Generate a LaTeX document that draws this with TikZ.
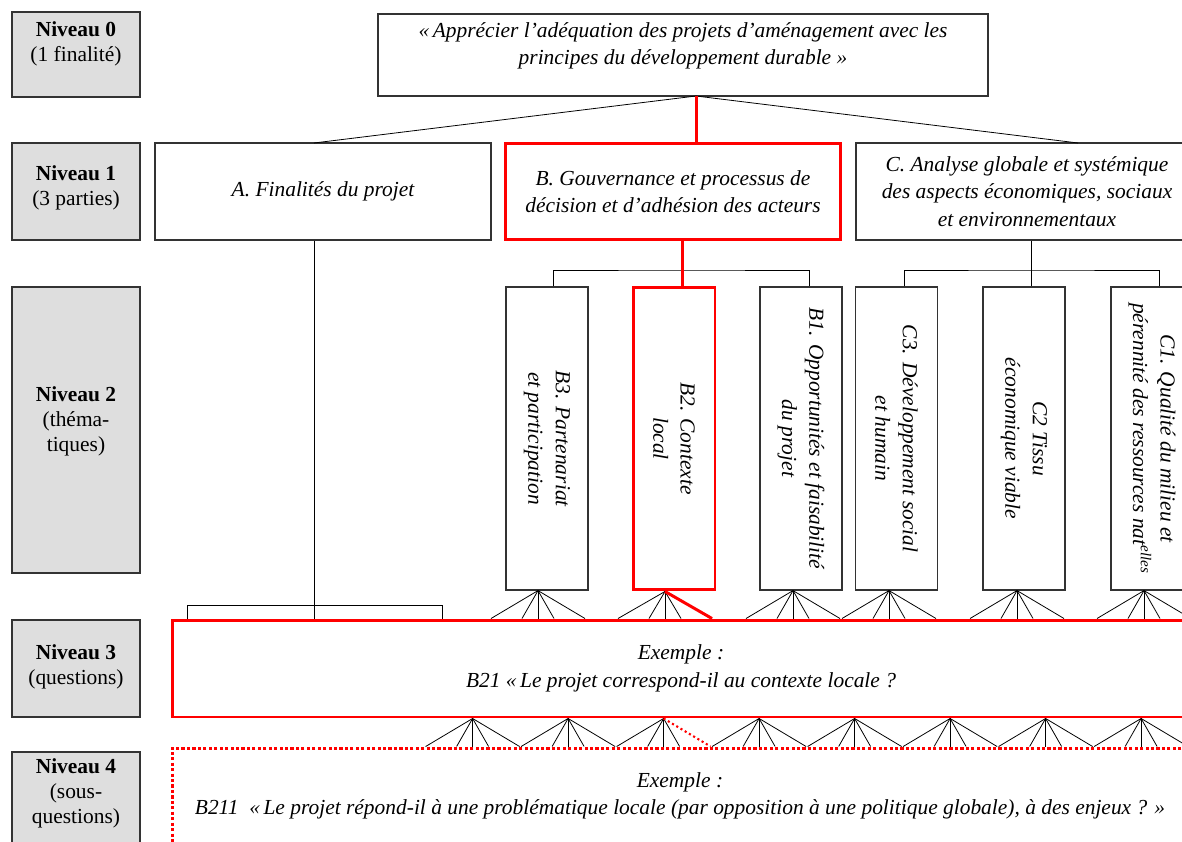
\documentclass[tikz,border=0pt]{standalone}
\usepackage{fontspec}
\setmainfont{Liberation Serif}
\usetikzlibrary{positioning, calc}

\begin{document}
\begin{tikzpicture}[x=0.02cm, y=-0.02cm, font=\fontsize{12.2}{15.6}\selectfont, align=center,
  niveau/.style={draw=black!80, fill=black!13, line width=0.7pt, minimum width=2.56cm},
  etiquette/.style={font=\fontsize{12.2}{14.2}\selectfont},
  boite/.style={draw=black!80, line width=0.7pt, inner sep=0pt, font=\fontsize{12.2}{15.6}\selectfont\itshape},
  theme/.style={boite, rotate=-90, minimum width=6.06cm, minimum height=1.64cm},
  rouge/.style={draw=red, line width=1.7pt},
  pointille/.style={draw=red, line width=1.7pt, dash pattern=on 1.8pt off 1.3pt},
  lien/.style={line width=0.45pt}]
  \useasboundingbox (0,0) rectangle (1182,841);
  \clip (0,0) rectangle (1182,841);

  % Levels (grey boxes on the left)
  \node[niveau, minimum height=1.70cm] (n0) at (76,54.5) {};
  \node[niveau, minimum height=1.94cm] (n1) at (76,191.5) {};
  \node[niveau, minimum height=5.72cm] (n2) at (76,430) {};
  \node[niveau, minimum height=1.94cm] (n3) at (76,668.5) {};
  \node[niveau, minimum height=2.16cm] (n4) at (76,806) {};
  \node[etiquette] (l0) at (76,44) {\textbf{Niveau 0}\\(1 finalité)};
  \node[etiquette] (l1) at (76,188) {\textbf{Niveau 1}\\(3 parties)};
  \node[etiquette] (l2) at (76,421) {\textbf{Niveau 2}\\(théma-\\tiques)};
  \node[etiquette] (l3) at (76,667) {\textbf{Niveau 3}\\(questions)};
  \node[etiquette] (l4) at (76,793) {\textbf{Niveau 4}\\(sous-\\questions)};

  % Level 0
  \node[boite, minimum width=12.2cm, minimum height=1.64cm] (fin) at (683,55) {};
  \node[font=\fontsize{12.2}{15.6}\selectfont\itshape] (tfin) at (683,46)
    {«\,Apprécier l’adéquation des projets d’aménagement avec les\\principes du développement durable »};

  % Level 1
  \node[boite, minimum width=6.72cm, minimum height=1.94cm] (pa) at (323,191.5) {A. Finalités du projet};
  \node[boite, rouge, minimum width=6.72cm, minimum height=1.94cm] (pb) at (673,191.5)
    {B. Gouvernance et processus de\\décision et d’adhésion des acteurs};
  \node[boite, minimum width=6.84cm, minimum height=1.94cm] (pc) at (1027,191.5)
    {C. Analyse globale et systémique\\des aspects économiques, sociaux\\et environnementaux};

  % Level 2
  \node[theme] (b3) at (547,438.5) {B3. Partenariat\\et participation};
  \node[theme, rouge] (b2) at (674,438.5) {B2. Contexte\\local};
  \node[theme] (b1) at (801,438.5) {B1. Opportunités et faisabilité\\du projet};
  \node[theme] (c3) at (896.5,438.5) {C3. Développement social\\et humain};
  \node[theme] (c2) at (1024,438.5) {C2 Tissu\\économique viable};
  \node[theme] (c1) at (1152,438.5) {C1. Qualité du milieu et\\pérennité des ressources nat\textsuperscript{elles}};

  % Level 3 and 4
  \node[boite, rouge, minimum width=20.36cm, minimum height=1.94cm] (q3) at (681,668.5)
    {Exemple :\\B21 «\,Le projet correspond-il au contexte locale ?};
  \node[boite, pointille, minimum width=20.36cm, minimum height=2.24cm] (q4) at (681,804) {};
  \node[font=\fontsize{12.2}{15.6}\selectfont\itshape] (tq4) at (680,796)
    {Exemple :\\B211~~«\,Le projet répond-il à une problématique locale (par opposition à une politique globale), à des enjeux ? »};

  % Level 0 -> 1
  \coordinate (j0) at (696,96);
  \coordinate (ja) at (314,143);
  \coordinate (jb) at (696,143);
  \coordinate (jc) at (1078,143);
  \draw[lien] (j0) -- (ja);
  \draw[lien] (j0) -- (jc);
  \draw[rouge] (j0) -- (jb);

  % A -> level 3
  \coordinate (ka) at (187,605);
  \coordinate (kb) at (442,605);
  \draw[lien] (ja |- pa.south) -- (ja |- q3.north);
  \draw[lien] (ka |- q3.north) -- (ka) -- (kb) -- (kb |- q3.north);

  % Level 1 -> 2
  \coordinate (kB) at (682,270);
  \coordinate (kC) at (1031,270);
  \draw[lien] ([xshift=0.12cm]b3.west) |- (kB) -| ([xshift=0.16cm]b1.west);
  \draw[lien] ([xshift=0.15cm]c3.west) |- (kC) -| ([xshift=0.14cm]c1.west);
  \draw[lien] (pc.south -| kC) -- (c2.west -| kC);
  \draw[rouge] (pb.south -| kB) -- (b2.west -| kB);

  % Level 2 -> 3
  \foreach \n/\dx in {b3/-9, b2/-9, b1/-8, c3/-7.5, c2/-7, c1/-8} {
    \coordinate (f\n) at ($(\n.east)+(\dx,0)$);
    \foreach \d in {-47,-16,0,16,47}
      \draw[lien] (f\n) -- ($(f\n |- q3.north)+(\d,0)$);
  }
  \draw[rouge] (fb2) -- ($(fb2 |- q3.north)+(47,0)$);

  % Level 3 -> 4
  \foreach \k in {0,...,7} {
    \coordinate (g\k) at ($(q3.south west)+(302+95.5*\k,0)$);
    \foreach \d in {-47,-16,0,16}
      \draw[lien] (g\k) -- ($(g\k |- q4.north)+(\d,0)$);
  }
  \foreach \k in {0,1,3,4,5,6,7}
    \draw[lien] (g\k) -- ($(g\k |- q4.north)+(47,0)$);
  \draw[red, line width=1.2pt, dash pattern=on 1.2pt off 1.6pt] (g2) -- ($(g2 |- q4.north)+(47,0)$);

\end{tikzpicture}
\end{document}
